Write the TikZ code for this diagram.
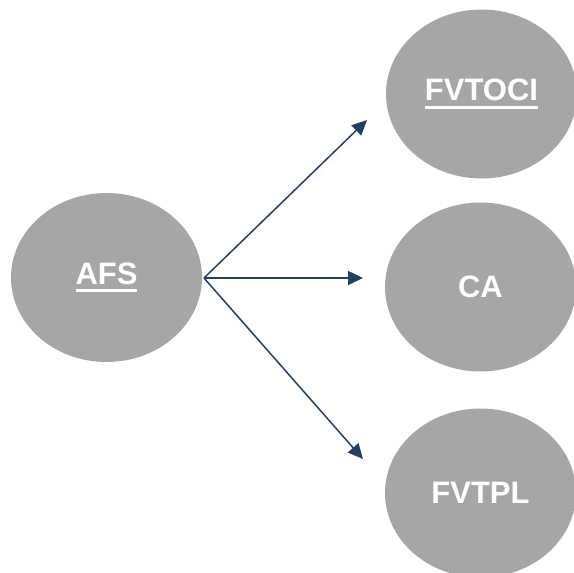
\documentclass[tikz,border=0pt]{standalone}
\usepackage{fontspec}
\setmainfont{Liberation Sans}
\usetikzlibrary{arrows.meta, shapes.geometric}
\definecolor{bubblegrey}{HTML}{A6A6A6}
\definecolor{arrownavy}{RGB}{36,64,97}
\newcommand{\ulword}[1]{\setbox0\hbox{#1}\rlap{\rule[-8pt]{\wd0}{3pt}}\box0}
\begin{document}
\begin{tikzpicture}[x=1pt, y=1pt,
        bubble/.style={ellipse, fill=bubblegrey, minimum width=191pt, minimum height=169pt, inner sep=0pt,
            text=white, font=\fontsize{31}{37}\selectfont\bfseries},
        link/.style={draw=arrownavy, line width=1.5pt, -{Triangle[length=15pt, width=14pt]}}]
            \useasboundingbox (0, 0) rectangle (574, -573);
            \node[bubble] (AFS) at (106.5, -277.5) {\ulword{AFS}};
            \node[bubble] (FVTOCI) at (481.5, -94) {\ulword{FVTOCI}};
            \node[bubble] (CA) at (480.5, -287) {CA};
            \node[bubble] (FVTPL) at (480.5, -493) {FVTPL};

            \coordinate (split) at (204, -278);
            \coordinate (toOCI) at (367, -120);
            \coordinate (toCA) at (363, -278);
            \coordinate (toPL) at (363, -459);

            \draw[link] (split) -- (toOCI);
            \draw[link] (split) -- (toCA);
            \draw[link] (split) -- (toPL);
        \end{tikzpicture}
\end{document}
